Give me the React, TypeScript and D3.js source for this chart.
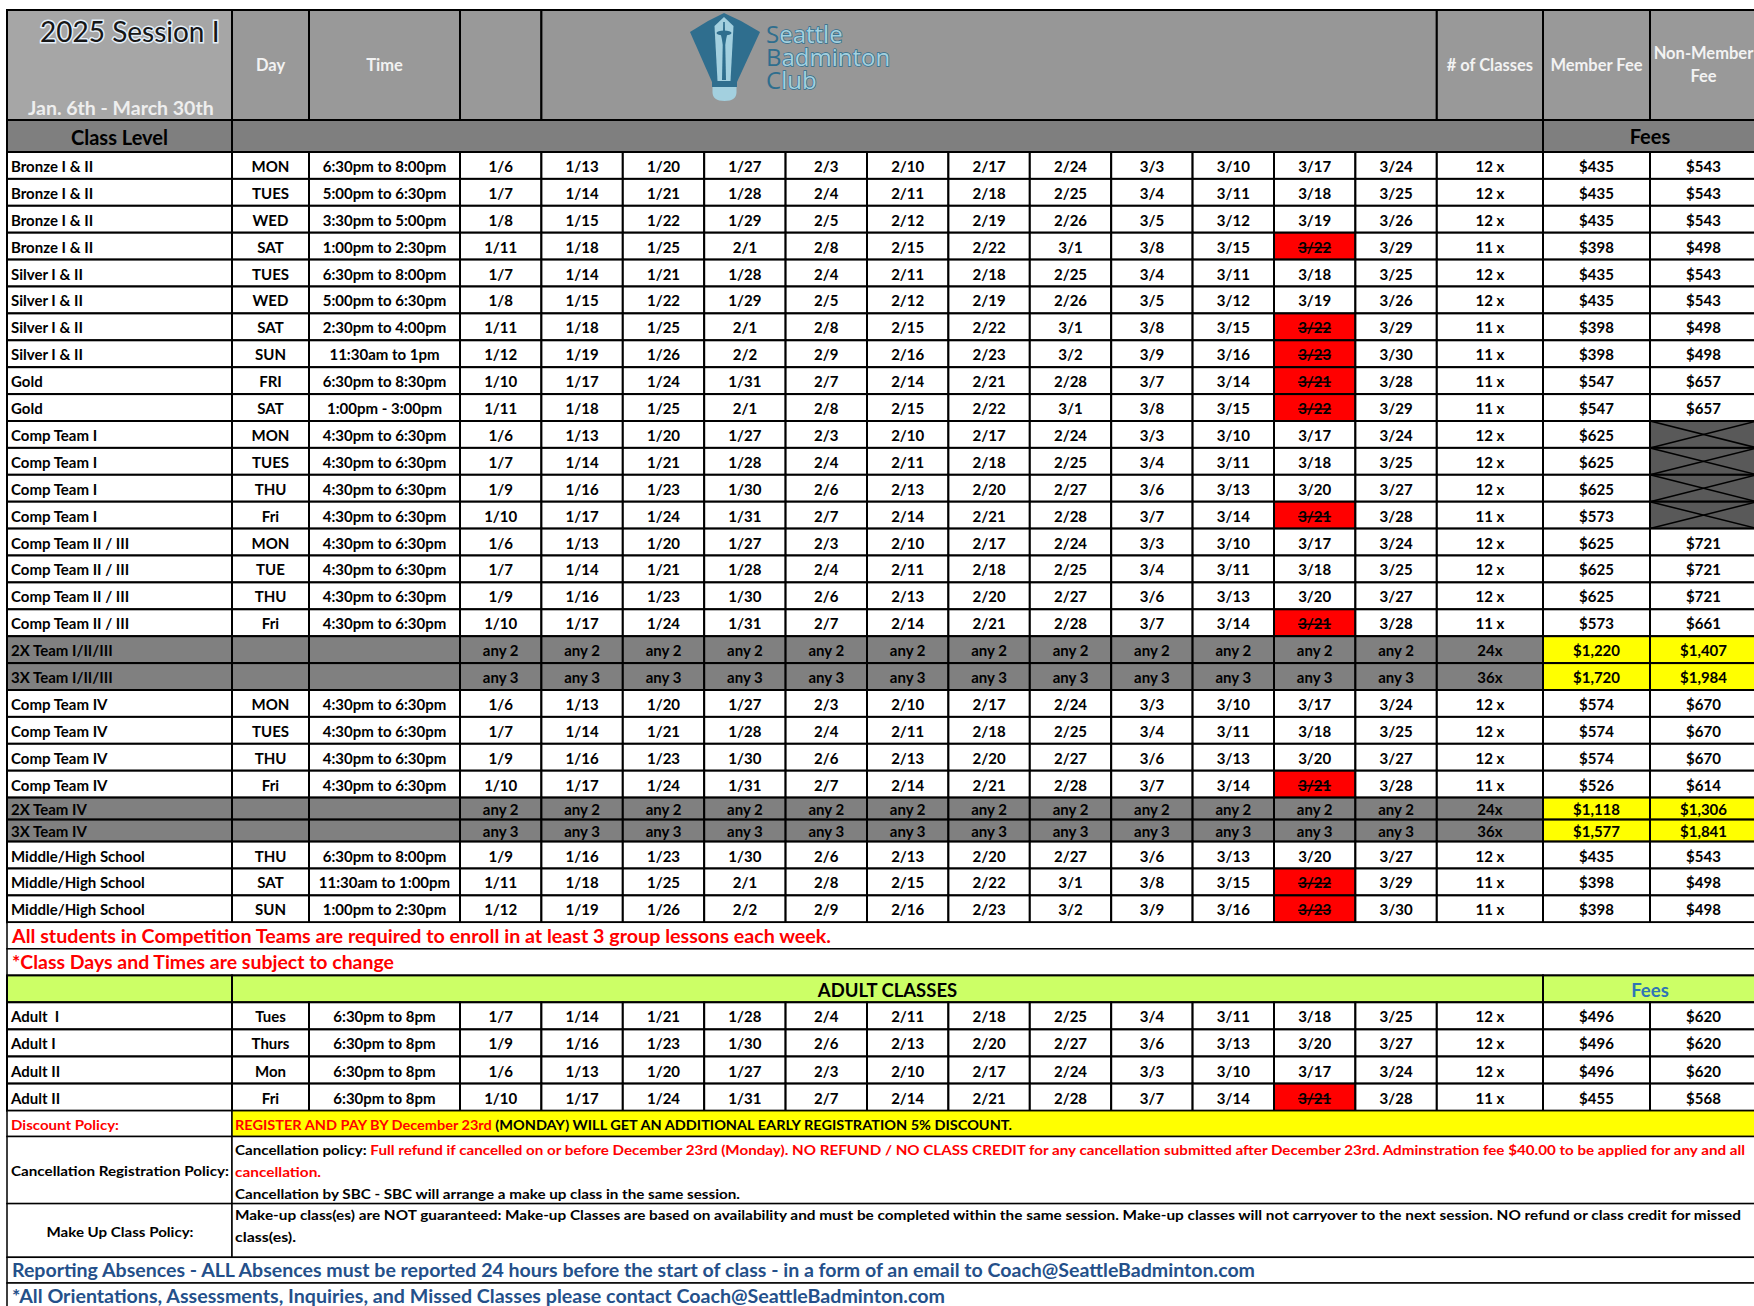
import React from 'react';
import * as d3 from 'd3';

// ---- data read from the schedule ----
const monDates = ['1/6', '1/13', '1/20', '1/27', '2/3', '2/10', '2/17', '2/24', '3/3', '3/10', '3/17', '3/24'];
const tueDates = ['1/7', '1/14', '1/21', '1/28', '2/4', '2/11', '2/18', '2/25', '3/4', '3/11', '3/18', '3/25'];
const wedDates = ['1/8', '1/15', '1/22', '1/29', '2/5', '2/12', '2/19', '2/26', '3/5', '3/12', '3/19', '3/26'];
const thuDates = ['1/9', '1/16', '1/23', '1/30', '2/6', '2/13', '2/20', '2/27', '3/6', '3/13', '3/20', '3/27'];
const friDates = ['1/10', '1/17', '1/24', '1/31', '2/7', '2/14', '2/21', '2/28', '3/7', '3/14', '3/21', '3/28'];
const satDates = ['1/11', '1/18', '1/25', '2/1', '2/8', '2/15', '2/22', '3/1', '3/8', '3/15', '3/22', '3/29'];
const sunDates = ['1/12', '1/19', '1/26', '2/2', '2/9', '2/16', '2/23', '3/2', '3/9', '3/16', '3/23', '3/30'];
const any2 = d3.range(12).map(() => 'any 2');
const any3 = d3.range(12).map(() => 'any 3');
const cancelledDates = ['3/21', '3/22', '3/23'];

const classLevels = [
  'Bronze I & II', 'Bronze I & II', 'Bronze I & II', 'Bronze I & II',
  'Silver I & II', 'Silver I & II', 'Silver I & II', 'Silver I & II',
  'Gold', 'Gold',
  'Comp Team I', 'Comp Team I', 'Comp Team I', 'Comp Team I',
  'Comp Team II / III', 'Comp Team II / III', 'Comp Team II / III', 'Comp Team II / III',
  '2X Team I/II/III', '3X Team I/II/III',
  'Comp Team IV', 'Comp Team IV', 'Comp Team IV', 'Comp Team IV',
  '2X Team IV', '3X Team IV',
  'Middle/High School', 'Middle/High School', 'Middle/High School',
];
const classDays = [
  'MON', 'TUES', 'WED', 'SAT', 'TUES', 'WED', 'SAT', 'SUN', 'FRI', 'SAT',
  'MON', 'TUES', 'THU', 'Fri', 'MON', 'TUE', 'THU', 'Fri', '', '',
  'MON', 'TUES', 'THU', 'Fri', '', '', 'THU', 'SAT', 'SUN',
];
const classTimes = [
  '6:30pm to 8:00pm', '5:00pm to 6:30pm', '3:30pm to 5:00pm', '1:00pm to 2:30pm',
  '6:30pm to 8:00pm', '5:00pm to 6:30pm', '2:30pm to 4:00pm', '11:30am to 1pm',
  '6:30pm to 8:30pm', '1:00pm - 3:00pm',
  '4:30pm to 6:30pm', '4:30pm to 6:30pm', '4:30pm to 6:30pm', '4:30pm to 6:30pm',
  '4:30pm to 6:30pm', '4:30pm to 6:30pm', '4:30pm to 6:30pm', '4:30pm to 6:30pm',
  '', '',
  '4:30pm to 6:30pm', '4:30pm to 6:30pm', '4:30pm to 6:30pm', '4:30pm to 6:30pm',
  '', '',
  '6:30pm to 8:00pm', '11:30am to 1:00pm', '1:00pm to 2:30pm',
];
const classDates = [
  monDates, tueDates, wedDates, satDates, tueDates, wedDates, satDates, sunDates, friDates, satDates,
  monDates, tueDates, thuDates, friDates, monDates, tueDates, thuDates, friDates, any2, any3,
  monDates, tueDates, thuDates, friDates, any2, any3, thuDates, satDates, sunDates,
];
const classCounts = [
  '12 x', '12 x', '12 x', '11 x', '12 x', '12 x', '11 x', '11 x', '11 x', '11 x',
  '12 x', '12 x', '12 x', '11 x', '12 x', '12 x', '12 x', '11 x', '24x', '36x',
  '12 x', '12 x', '12 x', '11 x', '24x', '36x', '12 x', '11 x', '11 x',
];
const memberFees = [
  '$435', '$435', '$435', '$398', '$435', '$435', '$398', '$398', '$547', '$547',
  '$625', '$625', '$625', '$573', '$625', '$625', '$625', '$573', '$1,220', '$1,720',
  '$574', '$574', '$574', '$526', '$1,118', '$1,577', '$435', '$398', '$398',
];
const nonMemberFees: (string | null)[] = [
  '$543', '$543', '$543', '$498', '$543', '$543', '$498', '$498', '$657', '$657',
  null, null, null, null, '$721', '$721', '$721', '$661', '$1,407', '$1,984',
  '$670', '$670', '$670', '$614', '$1,306', '$1,841', '$543', '$498', '$498',
];
const comboRows = [18, 19, 24, 25];
const shortRows = [24, 25];

const adultLevels = ['Adult\u00a0\u00a0I', 'Adult I', 'Adult II', 'Adult II'];
const adultDays = ['Tues', 'Thurs', 'Mon', 'Fri'];
const adultTimes = ['6:30pm to 8pm', '6:30pm to 8pm', '6:30pm to 8pm', '6:30pm to 8pm'];
const adultDates = [tueDates, thuDates, monDates, friDates];
const adultCounts = ['12 x', '12 x', '12 x', '11 x'];
const adultMemberFees = ['$496', '$496', '$496', '$455'];
const adultNonMemberFees = ['$620', '$620', '$620', '$568'];

const compNote = 'All students in Competition Teams are required to enroll in at least 3 group lessons each week.';
const changeNote = '*Class Days and Times are subject to change';
const reportNote = 'Reporting Absences - ALL Absences must be reported 24 hours before the start of class - in a form of an email to Coach@SeattleBadminton.com';
const contactNote = '*All Orientations, Assessments, Inquiries, and Missed Classes please contact Coach@SeattleBadminton.com';

// ---- layout ----
const W = 1754;
const H = 1306;
const FONT = "Lato, 'Noto Sans', sans-serif";
const RED = '#ff0000';
const BLUE = '#24508a';
const GRAY_HEAD = '#999999';
const GRAY_DARK = '#808080';
const LIME = '#ccff66';

const dateKeys = d3.range(12).map(i => `d${i}`);
const colKeys = ['level', 'day', 'time', ...dateKeys, 'count', 'member', 'non'];
const colWidths = [225, 77, 151, ...dateKeys.map(() => 81.4), 106.2, 107, 107];
const X0 = 7;
const edges = [X0, ...Array.from(d3.cumsum(colWidths), v => X0 + v)];
const x = d3.scaleOrdinal<string, number>().domain(colKeys).range(edges.slice(0, -1));
const cw = d3.scaleOrdinal<string, number>().domain(colKeys).range(colWidths);
const xr = (k: string) => x(k) + cw(k);
const XR = edges[edges.length - 1];

const TOP = 10;
const HEAD_B = 120;
const LEVEL_B = 152;
const rowH = classLevels.map((_, i) => (shortRows.includes(i) ? 22 : 26.9));
const rowTops = [LEVEL_B, ...Array.from(d3.cumsum(rowH), v => LEVEL_B + v)];
const TABLE_B = rowTops[rowTops.length - 1];
const lowerH = [26.5, 26.6, 26.9];
const lowerTops = [TABLE_B, ...Array.from(d3.cumsum(lowerH), v => TABLE_B + v)];
const ADULT_T = lowerTops[3];
const adultTops = d3.range(5).map(i => ADULT_T + i * 27.1);
const policyH = [25.8, 67.1, 53.7, 25.7, 26];
const policyTops = [adultTops[4], ...Array.from(d3.cumsum(policyH), v => adultTops[4] + v)];

type TP = {
  x: number; y: number; children?: React.ReactNode; anchor?: string; size?: number;
  color?: string; weight?: number; strike?: boolean; len?: number;
};
const T = ({ x, y, children, anchor = 'middle', size = 15, color = '#000', weight = 700, strike, len }: TP) => (
  <text
    x={x} y={y} textAnchor={anchor} dominantBaseline="central" fontSize={size} fill={color}
    fontWeight={weight} fontFamily={FONT}
    style={strike ? { textDecoration: 'line-through' } : undefined}
    textLength={len} lengthAdjust={len ? 'spacingAndGlyphs' : undefined}
  >{children}</text>
);

const Box = ({ x0, x1, y0, y1, fill = '#fff', sw = 2 }: { x0: number; x1: number; y0: number; y1: number; fill?: string; sw?: number }) => (
  <rect x={x0} y={y0} width={x1 - x0} height={y1 - y0} fill={fill} stroke="#000" strokeWidth={sw} />
);

type RowData = { level: string; day: string; time: string; dates: string[]; count: string; member: string; non: string | null; combo: boolean };

function TableRow({ r, y0, y1 }: { r: RowData; y0: number; y1: number }) {
  const cy = (y0 + y1) / 2 + 0.5;
  const base = r.combo ? GRAY_DARK : '#fff';
  return (
    <g>
      {colKeys.map(k => {
        const x0 = x(k);
        const x1 = xr(k);
        const cx = (x0 + x1) / 2;
        let fill = base;
        let text = '';
        let strike = false;
        if (k === 'level') text = r.level;
        else if (k === 'day') text = r.day;
        else if (k === 'time') text = r.time;
        else if (k === 'count') text = r.count;
        else if (k === 'member') { text = r.member; if (r.combo) fill = '#ffff00'; }
        else if (k === 'non') {
          if (r.non === null) {
            return (
              <g key={k}>
                <Box x0={x0} x1={x1} y0={y0} y1={y1} fill="#595959" />
                <line x1={x0} y1={y0} x2={x1} y2={y1} stroke="#000" strokeWidth={1.5} />
                <line x1={x0} y1={y1} x2={x1} y2={y0} stroke="#000" strokeWidth={1.5} />
              </g>
            );
          }
          text = r.non;
          if (r.combo) fill = '#ffff00';
        } else {
          text = r.dates[dateKeys.indexOf(k)];
          if (cancelledDates.includes(text)) { fill = RED; strike = true; }
        }
        return (
          <g key={k}>
            <Box x0={x0} x1={x1} y0={y0} y1={y1} fill={fill} />
            {k === 'level'
              ? <T x={x0 + 4} y={cy} anchor="start">{text}</T>
              : <T x={cx} y={cy} strike={strike}>{text}</T>}
          </g>
        );
      })}
    </g>
  );
}

function Logo() {
  const dark = '#2f6e8e';
  const light = '#a3d0df';
  const words: [string, string, number][] = [['S', 'eattle', 43], ['B', 'adminton', 66], ['C', 'lub', 89]];
  return (
    <g>
      <polygon points="690,32 708,21 724,13 741,21 760,32 737,82 712,82" fill={dark} />
      <polygon points="724,17 733.5,26 730.5,81 717.5,81 714.5,26" fill={light} />
      <polygon points="723.2,22 724.8,22 726,80 722,80" fill={dark} />
      <ellipse cx={724} cy={33} rx={7.5} ry={2.6} fill={dark} />
      <polygon points="721,35 727,35 725,45 723,45" fill={dark} />
      <rect x={712} y={82} width={25} height={5} fill={dark} />
      <path d="M712.5,87 L736.5,87 L736.5,92 Q736.5,101 724.5,101 Q712.5,101 712.5,92 Z" fill={light} />
      {words.map(([a, b, yy]) => (
        <text key={a} x={766} y={yy} fontFamily="'Open Sans', sans-serif" fontSize={24}>
          <tspan fill={dark}>{a}</tspan>
          <tspan fill={light} stroke={dark} strokeWidth={1.4} paintOrder="stroke">{b}</tspan>
        </text>
      ))}
    </g>
  );
}

export default function App() {
  const rows: RowData[] = classLevels.map((level, i) => ({
    level, day: classDays[i], time: classTimes[i], dates: classDates[i], count: classCounts[i],
    member: memberFees[i], non: nonMemberFees[i], combo: comboRows.includes(i),
  }));
  const adults: RowData[] = adultLevels.map((level, i) => ({
    level, day: adultDays[i], time: adultTimes[i], dates: adultDates[i], count: adultCounts[i],
    member: adultMemberFees[i], non: adultNonMemberFees[i], combo: false,
  }));
  const hc = (TOP + HEAD_B) / 2;
  const lc = (HEAD_B + LEVEL_B) / 2;
  const HEAD_TXT = '#f2f2f2';
  const [pDisc, pCancel, pMake, pRep, pCont] = d3.range(5).map(i => [policyTops[i], policyTops[i + 1]]);

  return (
    <svg width={W} height={H} style={{ position: 'absolute', left: 0, top: 0, background: '#fff' }}>
      <rect width={W} height={H} fill="#fff" />

      {/* header */}
      <Box x0={x('level')} x1={xr('level')} y0={TOP} y1={HEAD_B} fill="#a6a6a6" />
      <text x={40} y={31} dominantBaseline="central" fontFamily={FONT} fontSize={28} fill="#161616"
        stroke="#e4eef8" strokeWidth={3} paintOrder="stroke">2025 Session I</text>
      <T x={28} y={107} anchor="start" size={19.5} color="#eeeeee">Jan. 6th - March 30th</T>
      <Box x0={x('day')} x1={xr('day')} y0={TOP} y1={HEAD_B} fill={GRAY_HEAD} />
      <T x={(x('day') + xr('day')) / 2} y={hc} size={16.5} color={HEAD_TXT}>Day</T>
      <Box x0={x('time')} x1={xr('time')} y0={TOP} y1={HEAD_B} fill={GRAY_HEAD} />
      <T x={(x('time') + xr('time')) / 2} y={hc} size={16.5} color={HEAD_TXT}>Time</T>
      <Box x0={x('d0')} x1={xr('d0')} y0={TOP} y1={HEAD_B} fill={GRAY_HEAD} />
      <Box x0={x('d1')} x1={xr('d11')} y0={TOP} y1={HEAD_B} fill="#979797" />
      <Logo />
      <Box x0={x('count')} x1={xr('count')} y0={TOP} y1={HEAD_B} fill={GRAY_HEAD} />
      <T x={(x('count') + xr('count')) / 2} y={hc} size={16.5} color={HEAD_TXT}># of Classes</T>
      <Box x0={x('member')} x1={xr('member')} y0={TOP} y1={HEAD_B} fill={GRAY_HEAD} />
      <T x={(x('member') + xr('member')) / 2} y={hc} size={16.5} color={HEAD_TXT}>Member Fee</T>
      <Box x0={x('non')} x1={xr('non')} y0={TOP} y1={HEAD_B} fill={GRAY_HEAD} />
      <T x={(x('non') + xr('non')) / 2} y={53} size={16.5} color={HEAD_TXT}>Non-Member</T>
      <T x={(x('non') + xr('non')) / 2} y={76} size={16.5} color={HEAD_TXT}>Fee</T>

      {/* class level bar */}
      <Box x0={x('level')} x1={xr('level')} y0={HEAD_B} y1={LEVEL_B} fill="#7f7f7f" />
      <T x={(x('level') + xr('level')) / 2} y={lc + 1} size={20}>Class Level</T>
      <Box x0={x('day')} x1={xr('count')} y0={HEAD_B} y1={LEVEL_B} fill="#7f7f7f" />
      <Box x0={x('member')} x1={xr('non')} y0={HEAD_B} y1={LEVEL_B} fill="#7f7f7f" />
      <T x={(x('member') + xr('non')) / 2} y={lc} size={20}>Fees</T>

      {rows.map((r, i) => <TableRow key={i} r={r} y0={rowTops[i]} y1={rowTops[i + 1]} />)}

      {/* notes */}
      <Box x0={X0} x1={XR} y0={lowerTops[0]} y1={lowerTops[1]} sw={1.5} />
      <T x={12} y={(lowerTops[0] + lowerTops[1]) / 2} anchor="start" size={18} color={RED} len={819}>{compNote}</T>
      <Box x0={X0} x1={XR} y0={lowerTops[1]} y1={lowerTops[2]} sw={1.5} />
      <T x={12} y={(lowerTops[1] + lowerTops[2]) / 2} anchor="start" size={18} color={RED} len={382}>{changeNote}</T>

      {/* adult header */}
      <Box x0={x('level')} x1={xr('level')} y0={lowerTops[2]} y1={ADULT_T} fill={LIME} />
      <Box x0={x('day')} x1={xr('count')} y0={lowerTops[2]} y1={ADULT_T} fill={LIME} />
      <T x={(x('day') + xr('count')) / 2} y={(lowerTops[2] + ADULT_T) / 2 + 1} size={18.5}>ADULT CLASSES</T>
      <Box x0={x('member')} x1={xr('non')} y0={lowerTops[2]} y1={ADULT_T} fill={LIME} />
      <T x={(x('member') + xr('non')) / 2} y={(lowerTops[2] + ADULT_T) / 2 + 1} size={18.5} color="#2e75b6">Fees</T>

      {adults.map((r, i) => <TableRow key={i} r={r} y0={adultTops[i]} y1={adultTops[i + 1]} />)}

      {/* policies */}
      <Box x0={X0} x1={xr('level')} y0={pDisc[0]} y1={pDisc[1]} sw={1.5} />
      <T x={11} y={(pDisc[0] + pDisc[1]) / 2 + 1} anchor="start" size={14} color={RED} len={108}>Discount Policy:</T>
      <Box x0={xr('level')} x1={XR} y0={pDisc[0]} y1={pDisc[1]} fill="#ffff00" sw={1.5} />
      <T x={235} y={(pDisc[0] + pDisc[1]) / 2} anchor="start" size={14} len={777}>
        <tspan fill={RED}>REGISTER AND PAY BY December 23rd</tspan>
        <tspan fill="#000">{' (MONDAY) WILL GET AN ADDITIONAL EARLY REGISTRATION 5% DISCOUNT.'}</tspan>
      </T>

      <Box x0={X0} x1={xr('level')} y0={pCancel[0]} y1={pCancel[1]} sw={1.5} />
      <T x={11} y={(pCancel[0] + pCancel[1]) / 2} anchor="start" size={14} len={218}>Cancellation Registration Policy:</T>
      <Box x0={xr('level')} x1={XR} y0={pCancel[0]} y1={pCancel[1]} sw={1.5} />
      <T x={235} y={pCancel[0] + 12.5} anchor="start" size={14} len={1510}>
        <tspan fill="#000">{'Cancellation policy: '}</tspan>
        <tspan fill={RED}>Full refund if cancelled on or before December 23rd (Monday). NO REFUND / NO CLASS CREDIT for any cancellation submitted after December 23rd. Adminstration fee $40.00 to be applied for any and all</tspan>
      </T>
      <T x={235} y={pCancel[0] + 34.5} anchor="start" size={14} color={RED} len={86}>cancellation.</T>
      <T x={235} y={pCancel[0] + 57} anchor="start" size={14} len={505}>Cancellation by SBC - SBC will arrange a make up class in the same session.</T>

      <Box x0={X0} x1={xr('level')} y0={pMake[0]} y1={pMake[1]} sw={1.5} />
      <T x={120} y={(pMake[0] + pMake[1]) / 2 + 1} size={14} len={147}>Make Up Class Policy:</T>
      <Box x0={xr('level')} x1={XR} y0={pMake[0]} y1={pMake[1]} sw={1.5} />
      <T x={235} y={pMake[0] + 11} anchor="start" size={14} len={1506}>Make-up class(es) are NOT guaranteed: Make-up Classes are based on availability and must be completed within the same session. Make-up classes will not carryover to the next session. NO refund or class credit for missed</T>
      <T x={235} y={pMake[0] + 33} anchor="start" size={14} len={61}>class(es).</T>

      <Box x0={X0} x1={XR} y0={pRep[0]} y1={pRep[1]} sw={1.5} />
      <T x={12} y={(pRep[0] + pRep[1]) / 2} anchor="start" size={18} color={BLUE} len={1243}>{reportNote}</T>
      <Box x0={X0} x1={XR} y0={pCont[0]} y1={pCont[1]} sw={1.5} />
      <T x={12} y={(pCont[0] + pCont[1]) / 2} anchor="start" size={18} color={BLUE} len={933}>{contactNote}</T>
    </svg>
  );
}
